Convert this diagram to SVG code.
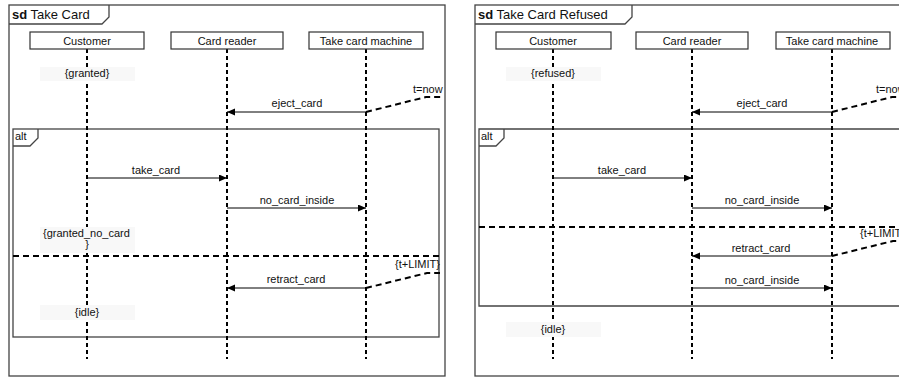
<svg xmlns="http://www.w3.org/2000/svg" width="899" height="377" viewBox="0 0 899 377">
<style>
text{font-family:"Liberation Sans",Arial,sans-serif;font-size:11px;fill:#111}
.title{font-size:13px}
.c{text-anchor:middle}
.frame{fill:none;stroke:#444;stroke-width:1.3}
.head{fill:#fff;stroke:#333;stroke-width:1.2}
.life{stroke:#000;stroke-width:2;stroke-dasharray:4 3;fill:none}
.sep{stroke:#000;stroke-width:2;stroke-dasharray:6 4;fill:none}
.msg{stroke:#000;stroke-width:1;fill:none;marker-end:url(#ah)}
.lbg{fill:#f8f8f8}
</style>
<defs>
<marker id="ah" markerUnits="userSpaceOnUse" markerWidth="9" markerHeight="8" refX="8" refY="3.5" orient="auto">
<path d="M0,0 L8,3.5 L0,7 z" fill="#000"/>
</marker>
</defs>
<rect width="899" height="377" fill="#fff"/>

<!-- Left diagram -->
<g id="frame-take-card">
<rect class="frame" x="9" y="5" width="436" height="371"/>
<path class="frame" d="M9,24 H102 L109,17 V5"/>
<text class="title" x="12" y="19"><tspan font-weight="bold">sd</tspan> Take Card</text>
</g>
<g id="alt-take-card">
<rect class="frame" x="13" y="129" width="426" height="208"/>
<path class="frame" d="M13,146 H30 L38,138 V129"/>
<text x="15" y="140">alt</text>
<line class="sep" x1="13" y1="256" x2="439" y2="256"/>
</g>
<g id="l-customer">
<line class="life" x1="87" y1="49" x2="87" y2="359"/>
<rect class="head" x="30" y="32" width="114" height="17"/>
<text class="c" x="87" y="45">Customer</text>
</g>
<g id="l-cardreader">
<line class="life" x1="227" y1="49" x2="227" y2="359"/>
<rect class="head" x="171" y="32" width="112" height="17"/>
<text class="c" x="227" y="45">Card reader</text>
</g>
<g id="l-machine">
<line class="life" x1="366" y1="49" x2="366" y2="359"/>
<rect class="head" x="309" y="32" width="114" height="17"/>
<text class="c" x="366" y="45">Take card machine</text>
</g>
<g id="l-state-granted">
<rect class="lbg" x="40" y="67" width="95" height="14"/>
<text class="c" x="87" y="77">{granted}</text>
</g>
<g id="l-state-granted-no-card">
<rect class="lbg" x="40" y="227" width="95" height="26"/>
<text x="43" y="237">{granted_no_card</text>
<text class="c" x="87" y="248">}</text>
</g>
<g id="l-state-idle">
<rect class="lbg" x="40" y="305" width="95" height="15"/>
<text class="c" x="87" y="316">{idle}</text>
</g>
<g id="l-constraint-now">
<text x="413" y="93">t=now</text>
</g>
<g id="l-constraint-limit">
<text x="395" y="268">{t+LIMIT}</text>
</g>

<!-- Right diagram -->
<g id="frame-take-card-refused">
<rect class="frame" x="475" y="5" width="436" height="371"/>
<path class="frame" d="M475,24 H625 L632,17 V5"/>
<text class="title" x="478" y="19"><tspan font-weight="bold">sd</tspan> Take Card Refused</text>
</g>
<g id="alt-take-card-refused">
<path class="frame" d="M910,129 H479 V306 H910"/>
<path class="frame" d="M479,146 H496 L504,138 V129"/>
<text x="481" y="140">alt</text>
<line class="sep" x1="479" y1="227" x2="905" y2="227"/>
</g>
<g id="r-customer">
<line class="life" x1="553" y1="49" x2="553" y2="359"/>
<rect class="head" x="496" y="32" width="115" height="17"/>
<text class="c" x="553" y="45">Customer</text>
</g>
<g id="r-cardreader">
<line class="life" x1="692" y1="49" x2="692" y2="359"/>
<rect class="head" x="636" y="32" width="112" height="17"/>
<text class="c" x="692" y="45">Card reader</text>
</g>
<g id="r-machine">
<line class="life" x1="832" y1="49" x2="832" y2="359"/>
<rect class="head" x="776" y="32" width="114" height="17"/>
<text class="c" x="832" y="45">Take card machine</text>
</g>
<g id="r-state-refused">
<rect class="lbg" x="506" y="67" width="95" height="14"/>
<text class="c" x="553" y="77">{refused}</text>
</g>
<g id="r-state-idle">
<rect class="lbg" x="506" y="322" width="95" height="15"/>
<text class="c" x="553" y="333">{idle}</text>
</g>
<g id="r-constraint-now">
<text x="876" y="93">t=now</text>
</g>
<g id="r-constraint-limit">
<text x="860" y="237">{t+LIMIT}</text>
</g>

<g id="connectors">
<!-- left -->
<line class="msg" x1="366" y1="112" x2="227" y2="112"/>
<text class="c" x="297" y="107">eject_card</text>
<path class="sep" d="M366,112 L426,97 H443"/>
<line class="msg" x1="87" y1="178" x2="227" y2="178"/>
<text class="c" x="156" y="174">take_card</text>
<line class="msg" x1="227" y1="208" x2="366" y2="208"/>
<text class="c" x="297" y="204">no_card_inside</text>
<line class="msg" x1="366" y1="288" x2="227" y2="288"/>
<text class="c" x="296" y="283">retract_card</text>
<path class="sep" d="M366,288 L427,273 H440"/>
<!-- right -->
<line class="msg" x1="832" y1="112" x2="692" y2="112"/>
<text class="c" x="762" y="107">eject_card</text>
<path class="sep" d="M832,112 L892,97 H905"/>
<line class="msg" x1="553" y1="178" x2="692" y2="178"/>
<text class="c" x="622" y="174">take_card</text>
<line class="msg" x1="692" y1="208" x2="832" y2="208"/>
<text class="c" x="762" y="204">no_card_inside</text>
<line class="msg" x1="832" y1="256" x2="692" y2="256"/>
<text class="c" x="761" y="252">retract_card</text>
<path class="sep" d="M832,256 L893,241 H905"/>
<line class="msg" x1="692" y1="288" x2="832" y2="288"/>
<text class="c" x="762" y="284">no_card_inside</text>
</g>
</svg>
